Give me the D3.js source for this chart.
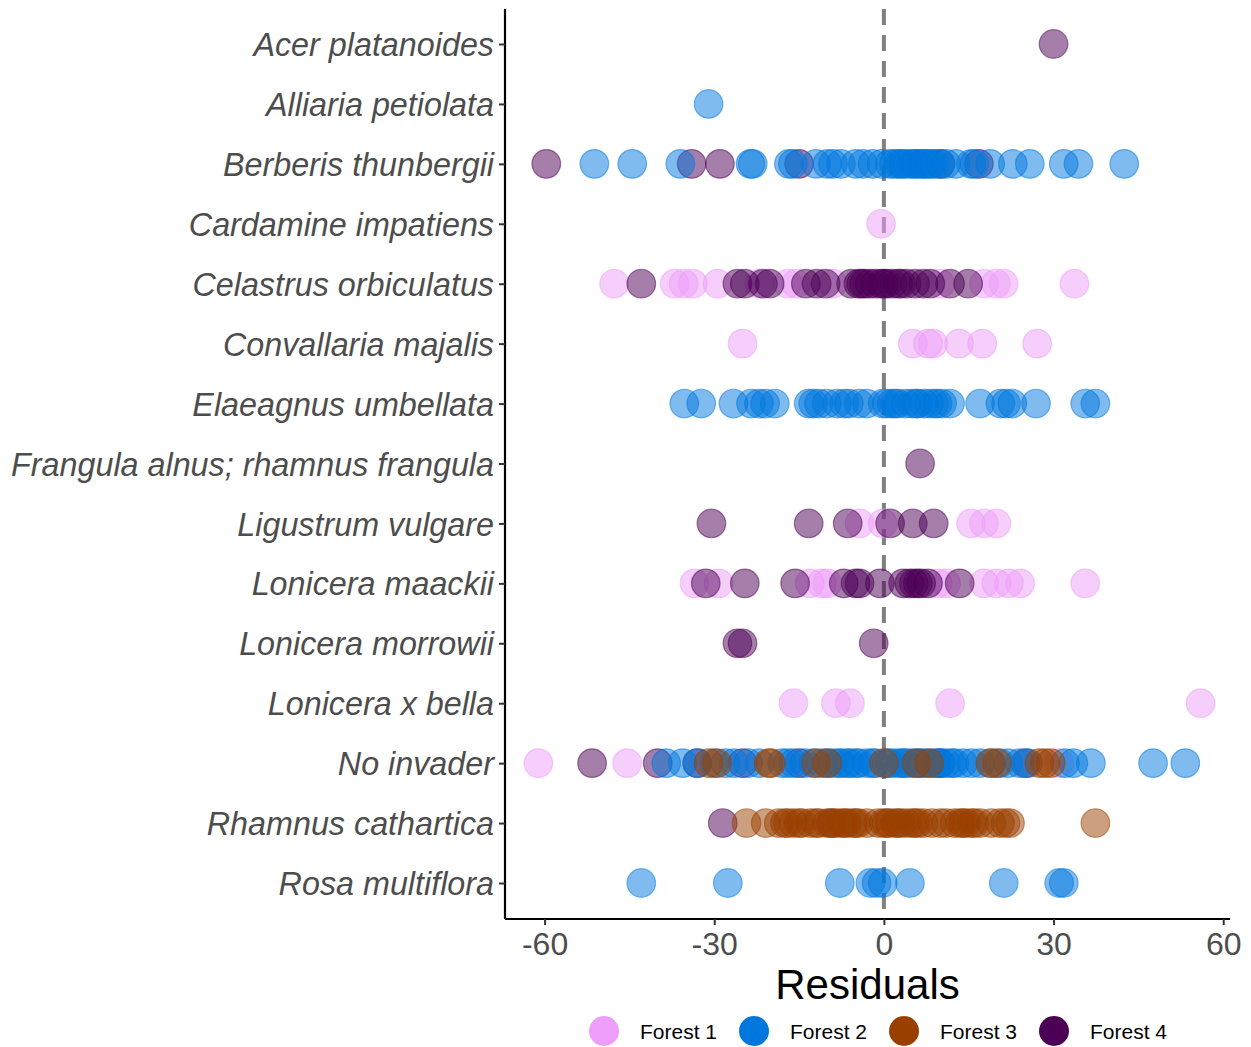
<!DOCTYPE html>
<html>
<head>
<meta charset="utf-8">
<script src="https://cdn.jsdelivr.net/npm/d3@7"></script>
<style>
  html, body { margin: 0; padding: 0; background: #fff; }
  svg { display: block; }
</style>
</head>
<body>
<script>
// ---------------- DATA ----------------
const species = [
  "Acer platanoides", "Alliaria petiolata", "Berberis thunbergii", "Cardamine impatiens",
  "Celastrus orbiculatus", "Convallaria majalis", "Elaeagnus umbellata",
  "Frangula alnus; rhamnus frangula", "Ligustrum vulgare", "Lonicera maackii",
  "Lonicera morrowii", "Lonicera x bella", "No invader", "Rhamnus cathartica", "Rosa multiflora"
];
const xTicks = [-60, -30, 0, 30, 60];
const forests = ["Forest 1", "Forest 2", "Forest 3", "Forest 4"];
const forestColors = ["#EE9EFA", "#0077DD", "#994000", "#4B0055"];

// residuals by forest: [species, values]
const forest1 = [
  ["Cardamine impatiens", [-0.5]],
  ["Celastrus orbiculatus", [-47.7, -37, -35.4, -33.8, -29.4, -22, -17, -15.5, -9, -3, 10, 17.7, 19.8, 21.2, 33.7]],
  ["Convallaria majalis", [-25, 5.1, 7.8, 8.7, 13.3, 17.4, 27.1]],
  ["Ligustrum vulgare", [-4.3, -0.2, 15.4, 17.7, 19.9]],
  ["Lonicera maackii", [-33.5, -29.2, -13.1, -11, -10, 9.5, 11, 17.7, 19.9, 22.1, 24.1, 35.6]],
  ["Lonicera x bella", [-16, -8.5, -6, 11.7, 56]],
  ["No invader", [-61.1, -45.4, 31]]
];
const forest2 = [
  ["Alliaria petiolata", [-31]],
  ["Berberis thunbergii", [-51.2, -44.5, -36, -23.6, -23.2, -16.8, -16.1, -12, -10, -9, -7.6, -5, -3.7, -2, -0.4, 1, 1.8, 2.5, 3, 3.5, 4.2, 5, 5.5, 5.8, 6.5, 7, 7.3, 8, 8.5, 9, 10, 11, 12.7, 15.4, 16, 18.8, 22.8, 25.8, 31.8, 34.4, 42.5]],
  ["Elaeagnus umbellata", [-35.3, -32.3, -26.6, -23.5, -22.1, -21, -19.3, -13.3, -12.5, -11.5, -10.1, -8.3, -7, -6.2, -4.4, -3, -0.2, 0.5, 1.4, 2, 2.5, 3.9, 5, 5.7, 6, 7.1, 8, 8.9, 9.5, 10.3, 11.7, 17, 20.6, 21.6, 22.7, 26.9, 35.6, 37.4]],
  ["No invader", [-38.5, -35.6, -33, -30, -28, -26.5, -24, -22, -18, -17, -16, -14, -12.5, -11, -10, -9, -8, -7.5, -6.5, -6, -5, -4.5, -3, -2, -1.5, 0.5, 1, 2, 3, 3.5, 4, 5, 6, 6.5, 7, 8, 9, 9.5, 10, 11, 12, 12.5, 14, 15.5, 17, 19, 20.5, 22, 24, 25.5, 32, 33.5, 36.6, 47.6, 53.3]],
  ["Rosa multiflora", [-42.9, -27.6, -7.8, -2.4, -1.3, -0.2, 4.6, 21.2, 31, 31.8]]
];
const forest3 = [
  ["No invader", [-31, -29.5, -20.4, -20, -12, -10, 0, 5.7, 8, 18.8, 20, 27.5, 28.5, 29.5]],
  ["Rhamnus cathartica", [-24.3, -20.9, -18.6, -17.5, -17, -16, -15, -14.5, -13, -12, -11.5, -10, -9, -8.5, -7.5, -7, -6.5, -5.5, -5, -4.5, -3, -1, 0, 0.5, 1, 2, 2.5, 3, 4, 5, 5.5, 6, 7, 8.5, 10, 11, 12.5, 13.5, 14, 14.5, 15.5, 16, 17, 19, 20.5, 21.5, 22.3, 37.4]]
];
const forest4 = [
  ["Acer platanoides", [30]],
  ["Berberis thunbergii", [-59.7, -34, -29, -15, 10, 16.8]],
  ["Celastrus orbiculatus", [-42.9, -25.9, -24.6, -21.4, -20.2, -13.8, -11.9, -10.3, -5.8, -4.5, -4, -3.5, -2.5, -1.5, -0.5, 0, 0.5, 1.5, 2.5, 3, 4, 5.5, 7, 8.2, 11.7, 14.9]],
  ["Frangula alnus; rhamnus frangula", [6.4]],
  ["Ligustrum vulgare", [-30.5, -13.3, -6.4, 1.1, 5.1, 8.8]],
  ["Lonicera maackii", [-31.5, -24.6, -15.7, -7.1, -5, -4.3, -0.7, 3.4, 4.5, 5.3, 6, 6.6, 7.8, 13.4]],
  ["Lonicera morrowii", [-25.9, -25, -1.8]],
  ["No invader", [-51.6, -40, -33, -25, -15, 10, 25]],
  ["Rhamnus cathartica", [-28.5, -9.4]]
];

// ---------------- CHART ----------------
const W = 1251, H = 1047;
const svg = d3.select("body").append("svg").attr("width", W).attr("height", H);

const plotL = 505, plotR = 1230, plotT = 9, plotB = 919;
const x = d3.scaleLinear().domain([-67, 61.2]).range([plotL, plotR]);
const y = d3.scalePoint().domain(species).range([44, 883]);

const fontFam = "'Liberation Sans', Arial, Helvetica, sans-serif";

// zero line
svg.append("line")
  .attr("x1", x(0)).attr("x2", x(0))
  .attr("y1", plotT).attr("y2", plotB)
  .attr("stroke", "#808080").attr("stroke-width", 4)
  .attr("stroke-dasharray", "16,10");

// points
const drawOrder = [[forest1, 0], [forest4, 3], [forest2, 1], [forest3, 2]];
const pts = [];
drawOrder.forEach(([arr, fi]) => {
  arr.forEach(([sp, vals]) => vals.forEach(v => pts.push({sp, v, fi})));
});
svg.append("g").selectAll("circle").data(pts).join("circle")
  .attr("cx", d => x(d.v))
  .attr("cy", d => y(d.sp))
  .attr("r", 14.3)
  .attr("fill", d => forestColors[d.fi])
  .attr("fill-opacity", 0.5)
  .attr("stroke", d => forestColors[d.fi])
  .attr("stroke-opacity", 0.5)
  .attr("stroke-width", 1.2);

// y axis
const yAxis = svg.append("g").attr("transform", `translate(${plotL},0)`)
  .call(d3.axisLeft(y).tickSize(6).tickPadding(5));
yAxis.select(".domain").attr("d", `M0,${plotT}V${plotB}`).attr("stroke", "#000").attr("stroke-width", 2.2);
yAxis.selectAll(".tick line").attr("stroke", "#333").attr("stroke-width", 2);
yAxis.selectAll(".tick text")
  .attr("fill", "#4D4D4D").attr("font-size", 32.3).attr("font-style", "italic")
  .attr("font-family", fontFam).attr("dy", "0.36em");

// x axis
const xAxis = svg.append("g").attr("transform", `translate(0,${plotB})`)
  .call(d3.axisBottom(x).tickValues(xTicks).tickSize(6).tickPadding(6).tickFormat(d3.format("d")));
xAxis.select(".domain").attr("d", `M${plotL},0H${plotR}`).attr("stroke", "#000").attr("stroke-width", 2.2);
xAxis.selectAll(".tick line").attr("stroke", "#333").attr("stroke-width", 2);
xAxis.selectAll(".tick text")
  .attr("fill", "#4D4D4D").attr("font-size", 32)
  .attr("font-family", fontFam).attr("dy", "0.75em")
  .text(d => d < 0 ? "-" + Math.abs(d) : d);

// x title
svg.append("text")
  .attr("x", (plotL + plotR) / 2).attr("y", 999)
  .attr("text-anchor", "middle")
  .attr("font-size", 42).attr("font-family", fontFam).attr("fill", "#000")
  .text("Residuals");

// legend
const legX = [604, 754, 904, 1054];
const leg = svg.append("g").selectAll("g").data(forests).join("g")
  .attr("transform", (d, i) => `translate(${legX[i]},1031)`);
leg.append("circle").attr("r", 15).attr("fill", (d, i) => forestColors[i]);
leg.append("text").attr("x", 36).attr("dy", "0.36em")
  .attr("font-size", 21).attr("font-family", fontFam).attr("fill", "#000")
  .text(d => d);
</script>
</body>
</html>
